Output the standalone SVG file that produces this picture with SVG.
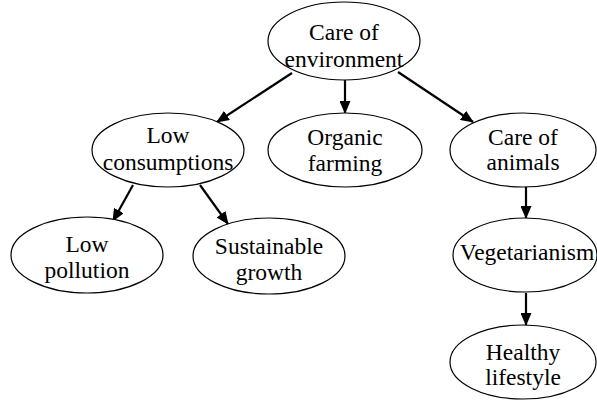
<svg xmlns="http://www.w3.org/2000/svg" width="597" height="401" viewBox="0 0 597 401">
<defs>
<style>
.node ellipse{fill:#fff;stroke:#000;stroke-width:1.2}
.node text{font-family:"Liberation Serif","Times New Roman",serif;font-size:23.5px;fill:#000;text-anchor:middle}
.edges line{stroke:#000;stroke-width:2.2;marker-end:url(#ah)}
</style>
<marker id="ah" markerUnits="userSpaceOnUse" markerWidth="13" markerHeight="11" refX="12" refY="5.5" orient="auto">
<path d="M0,0 L13,5.5 L0,11 z" fill="#000"/>
</marker>
</defs>
<rect width="597" height="401" fill="#fff"/>
<g id="edges" class="edges">
<line x1="292" y1="73" x2="217" y2="122"/>
<line x1="345" y1="80" x2="345" y2="113"/>
<line x1="398" y1="72" x2="473" y2="122"/>
<line x1="133" y1="185" x2="113" y2="221"/>
<line x1="200" y1="185" x2="228" y2="224"/>
<line x1="526" y1="187" x2="526" y2="218"/>
<line x1="526" y1="293" x2="526" y2="325"/>
</g>
<g id="care-environment" class="node">
<ellipse cx="344" cy="41" rx="76" ry="39"/>
<text x="344" y="40">Care of</text>
<text x="344" y="67">environment</text>
</g>
<g id="low-consumptions" class="node">
<ellipse cx="168" cy="150" rx="76" ry="37"/>
<text x="168" y="143">Low</text>
<text x="168" y="170">consumptions</text>
</g>
<g id="organic-farming" class="node">
<ellipse cx="345" cy="150" rx="77" ry="37"/>
<text x="345" y="145">Organic</text>
<text x="345" y="171">farming</text>
</g>
<g id="care-animals" class="node">
<ellipse cx="523" cy="150" rx="73" ry="37"/>
<text x="523" y="145">Care of</text>
<text x="523" y="170">animals</text>
</g>
<g id="low-pollution" class="node">
<ellipse cx="87" cy="255" rx="76" ry="38"/>
<text x="87" y="252">Low</text>
<text x="87" y="278">pollution</text>
</g>
<g id="sustainable-growth" class="node">
<ellipse cx="269" cy="256" rx="76" ry="38"/>
<text x="269" y="254">Sustainable</text>
<text x="269" y="280">growth</text>
</g>
<g id="vegetarianism" class="node">
<ellipse cx="525" cy="255" rx="72" ry="37"/>
<text x="527" y="260">Vegetarianism</text>
</g>
<g id="healthy-lifestyle" class="node">
<ellipse cx="523" cy="362" rx="73" ry="37"/>
<text x="523" y="360">Healthy</text>
<text x="523" y="385">lifestyle</text>
</g>
</svg>
